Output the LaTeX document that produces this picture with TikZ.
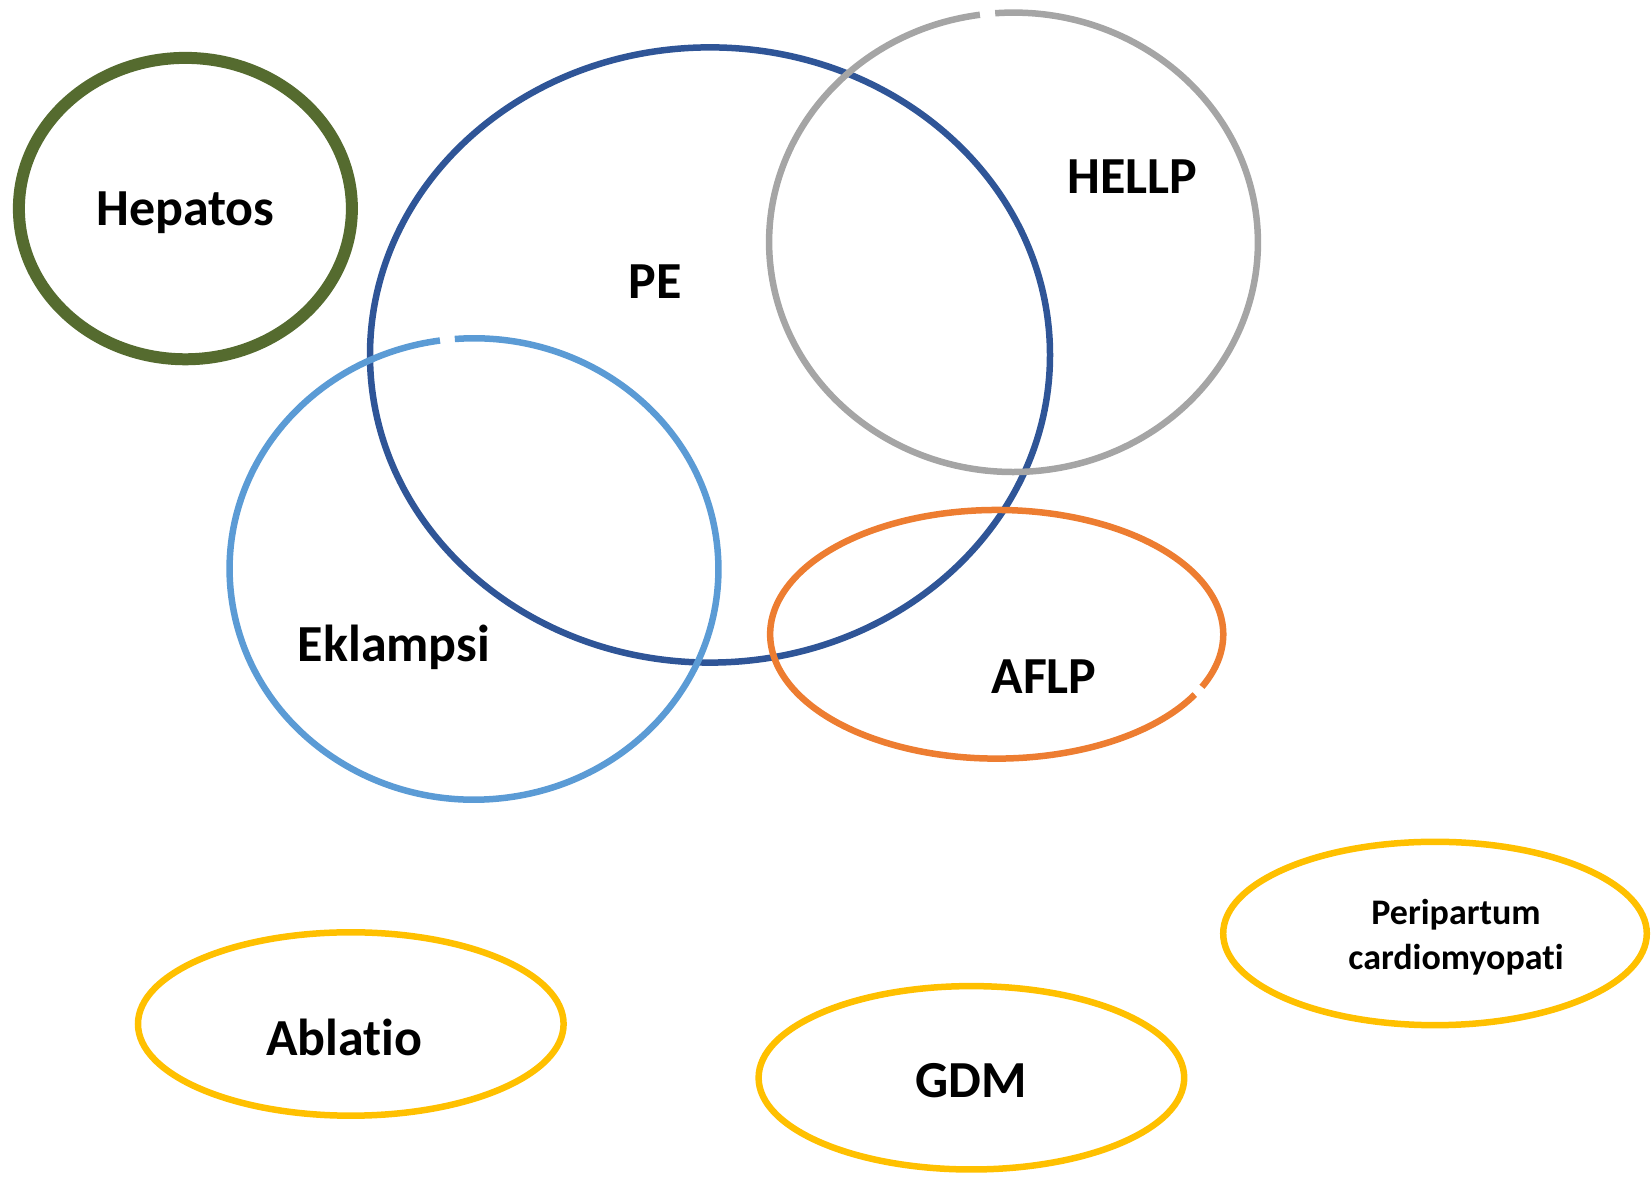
\documentclass[tikz,border=0pt]{standalone}
\usepackage{fontspec}
\setmainfont{Carlito}[Ligatures={NoCommon,NoRare,NoContextual}]
\newcommand{\nolig}{\kern0pt\relax}
\definecolor{olivec}{HTML}{556B2F}
\definecolor{pec}{HTML}{2F5597}
\definecolor{hellpc}{HTML}{A5A5A5}
\definecolor{eklc}{HTML}{5B9BD5}
\definecolor{aflpc}{HTML}{ED7D31}
\definecolor{yelc}{HTML}{FFC000}
\begin{document}
\begin{tikzpicture}[x=1pt,y=1pt,
  ring/.style={line width=6.5pt},
  lbl/.style={font=\fontsize{52}{62}\selectfont\bfseries, inner sep=0pt},
  smalllbl/.style={font=\fontsize{36}{45}\selectfont\bfseries, inner sep=0pt, align=center}]
\useasboundingbox (0,0) rectangle (1652,1182);
% ellipses
\draw[line width=12pt, olivec] (185.4,973.4) ellipse [x radius=166.5, y radius=150.7];
\draw[ring, pec] (710,827) ellipse [x radius=340, y radius=307.6];
\draw[ring, hellpc] (1013.5,939.7) ++(97.9:244.4 and 229.7) arc[start angle=97.9, end angle=454.3, x radius=244.4, y radius=229.7];
\draw[ring, eklc] (474,613) ++(98:244.4 and 230.7) arc[start angle=98, end angle=454.5, x radius=244.4, y radius=230.7];
\draw[ring, aflpc] (996.7,547.7) ++(-25:226.5 and 124.3) arc[start angle=-25, end angle=331, x radius=226.5, y radius=124.3];
\draw[ring, yelc] (1435,248.5) ellipse [x radius=211.8, y radius=91.7];
\draw[ring, yelc] (350.8,158) ellipse [x radius=212.8, y radius=91.7];
\draw[ring, yelc] (971.4,104.2) ellipse [x radius=212.8, y radius=91.7];
% labels
\node[lbl] (hep) at (185.4,969.3) {Hepatos};
\node[lbl] (pe) at (655,900) {PE};
\node[lbl] (hellp) at (1132.6,1005) {HELLP};
\node[lbl] (ekl) at (394,534.3) {Eklampsi};
\node[lbl] (aflp) at (1044,505) {AFLP};
\node[smalllbl] (peri) at (1456,245) {Peripartum\\cardiomyopat\nolig i};
\node[lbl] (abl) at (344.5,144.2) {Ablat\nolig io};
\node[lbl] (gdm) at (971.4,101.2) {GDM};
\end{tikzpicture}
\end{document}
